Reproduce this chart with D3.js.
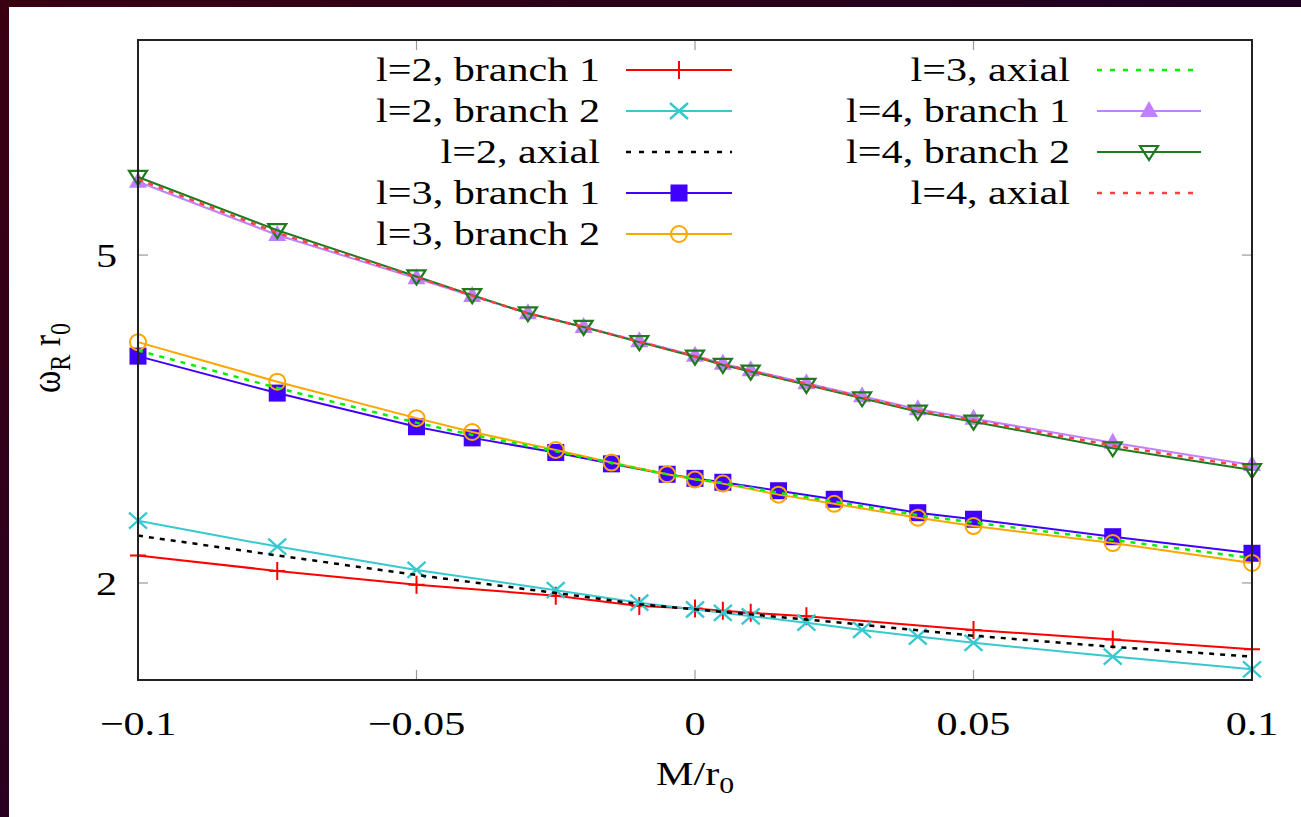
<!DOCTYPE html>
<html><head><meta charset="utf-8">
<script src="https://cdn.jsdelivr.net/npm/d3@7"></script>
<style>body{margin:0;background:#fff;overflow:hidden}</style>
</head><body><svg id="c" width="1301" height="817"></svg>
<script>
// ---- data ----
const xTicks = [-0.1, -0.05, 0, 0.05, 0.1];
const xTickLabels = ["\u22120.1", "\u22120.05", "0", "0.05", "0.1"];
const yTicks = [2, 5];
const yTickLabels = ["2", "5"];

const xL2b1 = [-0.1, -0.075, -0.05, -0.025, -0.01, 0, 0.005, 0.01, 0.02, 0.05, 0.075, 0.1];
const l2b1  = [2.16, 2.068, 1.99, 1.93, 1.875, 1.862, 1.85, 1.84, 1.822, 1.754, 1.708, 1.662];

const xL2 = [-0.1, -0.075, -0.05, -0.025, -0.01, 0, 0.005, 0.01, 0.02, 0.03, 0.04, 0.05, 0.075, 0.1];
const l2b2  = [2.38, 2.214, 2.074, 1.96, 1.893, 1.857, 1.84, 1.822, 1.79, 1.754, 1.722, 1.692, 1.628, 1.571];
const l2ax  = [2.283, 2.16, 2.045, 1.945, 1.885, 1.858, 1.845, 1.832, 1.806, 1.78, 1.752, 1.726, 1.673, 1.628];

const xL3 = [-0.1, -0.075, -0.05, -0.04, -0.025, -0.015, -0.005, 0, 0.005, 0.015, 0.025, 0.04, 0.05, 0.075, 0.1];
const l3b1  = [3.77, 3.40, 3.095, 3.00, 2.88, 2.79, 2.71, 2.679, 2.650, 2.588, 2.527, 2.434, 2.39, 2.276, 2.173];
const l3b2  = [3.92, 3.51, 3.17, 3.05, 2.90, 2.80, 2.71, 2.67, 2.64, 2.56, 2.495, 2.40, 2.345, 2.236, 2.115];
const l3ax  = [3.83, 3.45, 3.13, 3.025, 2.89, 2.795, 2.71, 2.675, 2.645, 2.574, 2.511, 2.417, 2.368, 2.256, 2.144];

const xL4 = [-0.1, -0.075, -0.05, -0.04, -0.03, -0.02, -0.01, 0, 0.005, 0.01, 0.02, 0.03, 0.04, 0.05, 0.075, 0.1];
const l4b1  = [6.137, 5.288, 4.685, 4.46, 4.25, 4.09, 3.93, 3.775, 3.69, 3.625, 3.495, 3.37, 3.25, 3.165, 2.96, 2.781];
const l4b2  = [6.22, 5.36, 4.71, 4.47, 4.249, 4.09, 3.92, 3.764, 3.678, 3.61, 3.479, 3.351, 3.228, 3.139, 2.914, 2.742];
const l4ax  = [6.18, 5.32, 4.70, 4.465, 4.25, 4.09, 3.925, 3.77, 3.684, 3.618, 3.487, 3.36, 3.239, 3.152, 2.937, 2.762];

const seriesNames = ["l=2, branch 1", "l=2, branch 2", "l=2, axial", "l=3, branch 1", "l=3, branch 2",
                     "l=3, axial", "l=4, branch 1", "l=4, branch 2", "l=4, axial"];

// ---- styles ----
const series = [
  {name: seriesNames[0], x: xL2b1, y: l2b1, color: "#ff0000", sym: "plus"},
  {name: seriesNames[1], x: xL2,   y: l2b2, color: "#38c8d0", sym: "cross"},
  {name: seriesNames[2], x: xL2,   y: l2ax, color: "#000000", sym: null, dash: true},
  {name: seriesNames[3], x: xL3,   y: l3b1, color: "#4000ff", sym: "square"},
  {name: seriesNames[4], x: xL3,   y: l3b2, color: "#ffa500", sym: "circle"},
  {name: seriesNames[5], x: xL3,   y: l3ax, color: "#00f000", sym: null, dash: true},
  {name: seriesNames[6], x: xL4,   y: l4b1, color: "#c080ff", sym: "triup"},
  {name: seriesNames[7], x: xL4,   y: l4b2, color: "#1f7a1f", sym: "tridown"},
  {name: seriesNames[8], x: xL4,   y: l4ax, color: "#ff4040", sym: null, dash: true}
];

const W = 1301, H = 817;
const P = {left: 138, right: 1252, top: 40, bottom: 680};
const SX = 1.24;
const FONT = "'Liberation Serif', 'Times New Roman', serif";
const FS = 34;

const svg = d3.select("#c");

// background border
const defs = svg.append("defs");
const grad = defs.append("linearGradient").attr("id", "bg").attr("x1", 0).attr("y1", 0).attr("x2", 1).attr("y2", 0);
grad.append("stop").attr("offset", 0).attr("stop-color", "#3a0012");
grad.append("stop").attr("offset", 1).attr("stop-color", "#1e0022");
const gradV = defs.append("linearGradient").attr("id", "bgv").attr("x1", 0).attr("y1", 0).attr("x2", 0).attr("y2", 1);
gradV.append("stop").attr("offset", 0).attr("stop-color", "#3a0012");
gradV.append("stop").attr("offset", 1).attr("stop-color", "#2a0020");
svg.append("rect").attr("width", W).attr("height", H).attr("fill", "#fff");
svg.append("rect").attr("x", 0).attr("y", 0).attr("width", W).attr("height", 7).attr("fill", "url(#bg)");
svg.append("rect").attr("x", 0).attr("y", 0).attr("width", 9).attr("height", H).attr("fill", "url(#bgv)");

const x = d3.scaleLinear().domain([-0.1, 0.1]).range([P.left, P.right]);
const y = d3.scaleLog().domain([1.525, 9.12]).range([P.bottom, P.top]);

// ticks (all four sides, inward)
const tickG = svg.append("g");
const TL = 10;
xTicks.forEach(v => {
  tickG.append("line").attr("x1", x(v)).attr("x2", x(v)).attr("y1", P.bottom).attr("y2", P.bottom - TL)
    .attr("stroke", "#999").attr("stroke-width", 1.2);
  tickG.append("line").attr("x1", x(v)).attr("x2", x(v)).attr("y1", P.top).attr("y2", P.top + TL)
    .attr("stroke", "#999").attr("stroke-width", 1.2);
});
yTicks.forEach(v => {
  tickG.append("line").attr("x1", P.left).attr("x2", P.left + TL).attr("y1", y(v)).attr("y2", y(v))
    .attr("stroke", "#999").attr("stroke-width", 1.2);
  tickG.append("line").attr("x1", P.right).attr("x2", P.right - TL).attr("y1", y(v)).attr("y2", y(v))
    .attr("stroke", "#999").attr("stroke-width", 1.2);
});

function txt(g, px, py, str, anchor) {
  return g.append("text").attr("transform", `translate(${px},${py}) scale(${SX},1)`)
    .attr("text-anchor", anchor).attr("font-family", FONT).attr("font-size", FS).attr("fill", "#000").text(str);
}

// tick labels
const labG = svg.append("g");
xTicks.forEach((v, i) => txt(labG, x(v), 735, xTickLabels[i], "middle"));
yTicks.forEach((v, i) => txt(labG, 117, y(v) + 12, yTickLabels[i], "end"));

// axis titles
const xt = labG.append("text").attr("transform", `translate(695,785) scale(${SX},1)`)
  .attr("text-anchor", "middle").attr("font-family", FONT).attr("font-size", FS);
xt.append("tspan").text("M/r");
xt.append("tspan").attr("font-size", 24).attr("dy", 8).text("0");

const yt = labG.append("text").attr("transform", `translate(60,358) rotate(-90) scale(1,${SX})`)
  .attr("text-anchor", "middle").attr("font-family", FONT).attr("font-size", FS);
yt.append("tspan").text("\u03c9");
yt.append("tspan").attr("font-size", 24).attr("dy", 8).text("R");
yt.append("tspan").attr("dy", -8).text(" r");
yt.append("tspan").attr("font-size", 24).attr("dy", 8).text("0");

// symbols
function drawSym(g, type, cx, cy, color) {
  const s = 8;
  if (type === "plus") {
    g.append("path").attr("d", `M${cx - s},${cy}H${cx + s}M${cx},${cy - s - 1}V${cy + s + 1}`)
      .attr("stroke", color).attr("stroke-width", 2).attr("fill", "none");
  } else if (type === "cross") {
    g.append("path").attr("d", `M${cx - s - 1},${cy - s}L${cx + s + 1},${cy + s}M${cx - s - 1},${cy + s}L${cx + s + 1},${cy - s}`)
      .attr("stroke", color).attr("stroke-width", 2.4).attr("fill", "none");
  } else if (type === "square") {
    g.append("rect").attr("x", cx - 8.5).attr("y", cy - 8.5).attr("width", 17).attr("height", 17).attr("fill", color);
  } else if (type === "circle") {
    g.append("circle").attr("cx", cx).attr("cy", cy).attr("r", 8)
      .attr("stroke", color).attr("stroke-width", 2).attr("fill", "none");
  } else if (type === "triup") {
    g.append("path").attr("d", `M${cx},${cy - 10}L${cx + 9},${cy + 6}L${cx - 9},${cy + 6}Z`).attr("fill", color);
  } else if (type === "tridown") {
    g.append("path").attr("d", `M${cx - 9},${cy - 6}L${cx + 9},${cy - 6}L${cx},${cy + 8}Z`)
      .attr("stroke", color).attr("stroke-width", 2.2).attr("fill", "none");
  }
}

// plot series
const plotG = svg.append("g");
const line = d3.line();
series.forEach(s => {
  const pts = s.x.map((xv, i) => [x(xv), y(s.y[i])]);
  const p = plotG.append("path").attr("d", line(pts)).attr("fill", "none")
    .attr("stroke", s.color).attr("stroke-width", s.dash ? 2.5 : 2);
  if (s.dash) p.attr("stroke-dasharray", "5,6");
  if (s.sym) pts.forEach(pt => drawSym(plotG, s.sym, pt[0], pt[1], s.color));
});

// legend
const legG = svg.append("g");
const rowY = [70, 111, 152, 193, 234];
const cols = [{textX: 600, l0: 626, l1: 732}, {textX: 1070, l0: 1097, l1: 1201}];
series.forEach((s, i) => {
  const c = cols[i < 5 ? 0 : 1];
  const ry = rowY[i < 5 ? i : i - 5];
  txt(legG, c.textX, ry + 11, s.name, "end");
  const l = legG.append("line").attr("x1", c.l0).attr("x2", c.l1).attr("y1", ry).attr("y2", ry)
    .attr("stroke", s.color).attr("stroke-width", s.dash ? 2.5 : 2);
  if (s.dash) l.attr("stroke-dasharray", "5,8");
  if (s.sym) drawSym(legG, s.sym, (c.l0 + c.l1) / 2, ry, s.color);
});

// frame
svg.append("rect").attr("x", P.left).attr("y", P.top).attr("width", P.right - P.left).attr("height", P.bottom - P.top)
  .attr("fill", "none").attr("stroke", "#222").attr("stroke-width", 2);
</script>
</body></html>
